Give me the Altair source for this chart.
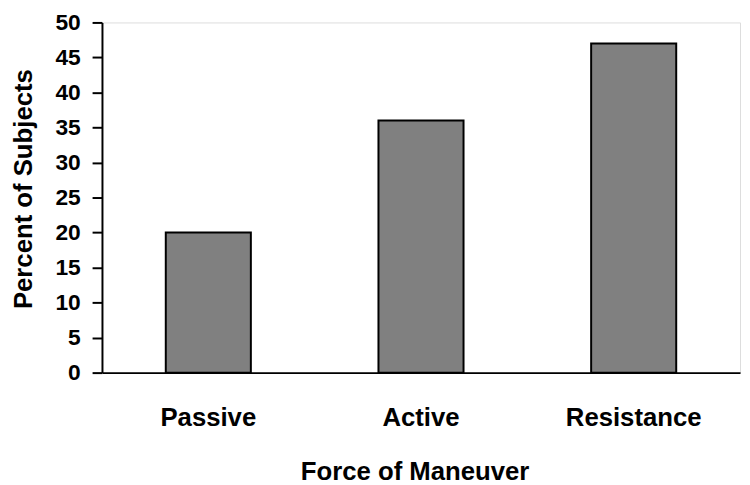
import altair as alt
import pandas as pd

categories = ["Passive", "Active", "Resistance"]
percent = [20, 36, 47]
y_ticks = [0, 5, 10, 15, 20, 25, 30, 35, 40, 45, 50]

df = pd.DataFrame({"Force": categories, "Percent": percent})

FONT = "Liberation Sans"

chart = alt.Chart(df).mark_bar(
    color="#808080", stroke="black", strokeWidth=2
).encode(
    x=alt.X(
        "Force:N",
        sort=categories,
        scale=alt.Scale(paddingInner=0.6, paddingOuter=0.3),
        axis=alt.Axis(
            title="Force of Maneuver",
            labelAngle=0,
            labelFont=FONT,
            labelFontSize=26,
            labelFontWeight="bold",
            labelColor="black",
            labelPadding=32,
            ticks=False,
            tickSize=0,
            domainColor="black",
            domainWidth=2,
            titleFont=FONT,
            titleFontSize=26,
            titleFontWeight="bold",
            titleColor="black",
            titleX=316,
            titleY=108,
            titleBaseline="alphabetic",
            titleAlign="center",
        ),
    ),
    y=alt.Y(
        "Percent:Q",
        scale=alt.Scale(domain=[0, 50], nice=False),
        axis=alt.Axis(
            title="Percent of Subjects",
            values=y_ticks,
            grid=False,
            labelFont=FONT,
            labelFontSize=23,
            labelFontWeight="bold",
            labelColor="black",
            labelPadding=12,
            tickSize=10,
            tickWidth=2,
            tickColor="black",
            domainColor="black",
            domainWidth=2,
            titleFont=FONT,
            titleFontSize=26,
            titleFontWeight="bold",
            titleColor="black",
            titleAngle=270,
            titleX=-92,
            titleY=168,
            titleBaseline="top",
            titleAlign="center",
        ),
    ),
).properties(
    width=645,
    height=354,
    autosize=alt.AutoSizeParams(type="none"),
    padding={"left": 95, "top": 12, "right": 2, "bottom": 110},
).configure_view(stroke=None).configure(background="white")

chart.save("out.html", embed_options={"renderer": "svg", "actions": False})
